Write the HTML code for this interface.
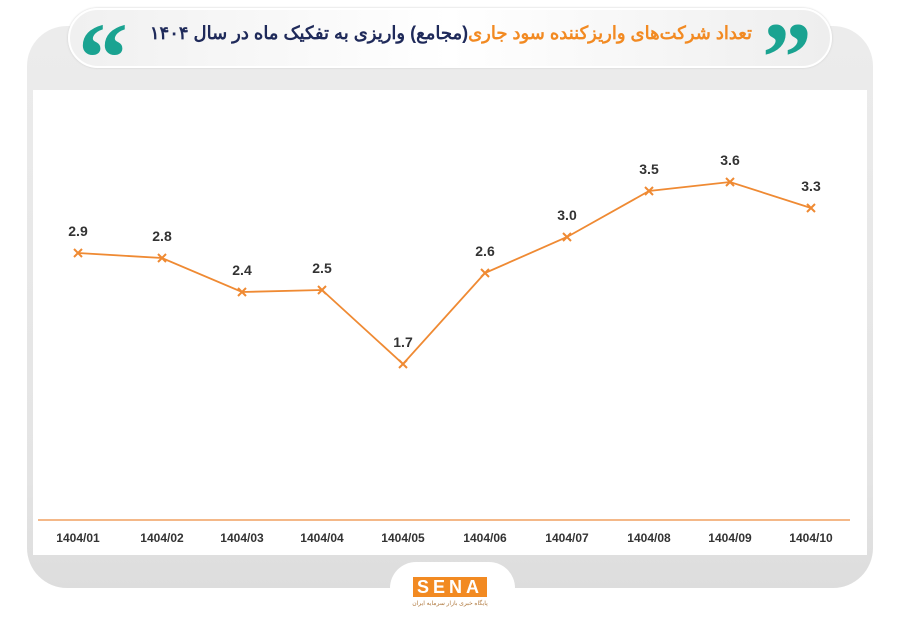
<!DOCTYPE html>
<html><head><meta charset="utf-8"><style>
body{margin:0;width:900px;height:623px;background:#fff;position:relative;overflow:hidden;font-family:"Liberation Sans","Noto Sans CJK SC",sans-serif}
.panel{position:absolute;left:27px;top:26px;width:846px;height:562px;border-radius:40px;background:linear-gradient(#ececec,#e4e4e4 80%,#ddd);}
.inner{position:absolute;left:33px;top:90px;width:834px;height:465px;background:#fff}
.pill{position:absolute;left:68px;top:8px;width:764px;height:60px;border-radius:30px;background:linear-gradient(90deg,#f0f0f0,#fff 50%,#eee);border:2px solid #fff;box-shadow:0 0 2px #ccc;box-sizing:border-box}
.title{position:absolute;right:148px;top:23px;font-size:18px;font-weight:bold;color:#1f2a5a;direction:rtl;white-space:nowrap}
.title span{color:#f28a22}
.q{position:absolute;top:8px;font-size:100px;font-weight:bold;color:#1aa391;font-family:"Liberation Serif",serif;line-height:1}
.tab{position:absolute;left:390px;top:562px;width:125px;height:50px;border-radius:26px 26px 0 0;background:#fff}
.logo{position:absolute;left:413px;top:577px;width:74px;height:20px;background:#f28a22;color:#fff;font-weight:bold;font-size:18px;letter-spacing:4px;text-align:center;line-height:20px}
.sub{position:absolute;left:410px;top:600px;width:80px;font-size:6px;color:#b07a40;text-align:center}
</style></head><body>
<div class="panel"></div>
<div class="inner"></div>
<div class="pill"></div>
<div class="q" style="left:78px">&#8220;</div>
<div class="q" style="left:762px">&#8221;</div>
<div class="title"><span>تعداد شرکت‌های واریزکننده سود جاری</span>(مجامع) واریزی به تفکیک ماه در سال ۱۴۰۴</div>
<svg style="position:absolute;left:0;top:0" width="900" height="623">
<line x1="38" y1="520" x2="850" y2="520" stroke="#f0a060" stroke-width="1.5"/>
<polyline fill="none" stroke="#ef8a33" stroke-width="1.8" points="78,253 162,258 242,292 322,290 403,364 485,273 567,237 649,191 730,182 811,208"/>
<g stroke="#ef8a33" stroke-width="2">
<path d="M74,249l8,8M82,249l-8,8"/><path d="M158,254l8,8M166,254l-8,8"/><path d="M238,288l8,8M246,288l-8,8"/><path d="M318,286l8,8M326,286l-8,8"/><path d="M399,360l8,8M407,360l-8,8"/><path d="M481,269l8,8M489,269l-8,8"/><path d="M563,233l8,8M571,233l-8,8"/><path d="M645,187l8,8M653,187l-8,8"/><path d="M726,178l8,8M734,178l-8,8"/><path d="M807,204l8,8M815,204l-8,8"/>
</g>
<g font-size="14" font-weight="bold" fill="#333" text-anchor="middle" font-family="Liberation Sans,sans-serif">
<text x="78" y="236">2.9</text><text x="162" y="241">2.8</text><text x="242" y="275">2.4</text><text x="322" y="273">2.5</text><text x="403" y="347">1.7</text><text x="485" y="256">2.6</text><text x="567" y="220">3.0</text><text x="649" y="174">3.5</text><text x="730" y="165">3.6</text><text x="811" y="191">3.3</text>
</g>
<g font-size="12" font-weight="bold" fill="#333" text-anchor="middle" font-family="Liberation Sans,sans-serif">
<text x="78" y="542">1404/01</text><text x="162" y="542">1404/02</text><text x="242" y="542">1404/03</text><text x="322" y="542">1404/04</text><text x="403" y="542">1404/05</text><text x="485" y="542">1404/06</text><text x="567" y="542">1404/07</text><text x="649" y="542">1404/08</text><text x="730" y="542">1404/09</text><text x="811" y="542">1404/10</text>
</g>
</svg>
<div class="tab"></div>
<div class="logo">SENA</div>
<div class="sub">پایگاه خبری بازار سرمایه ایران</div>
</body></html>
